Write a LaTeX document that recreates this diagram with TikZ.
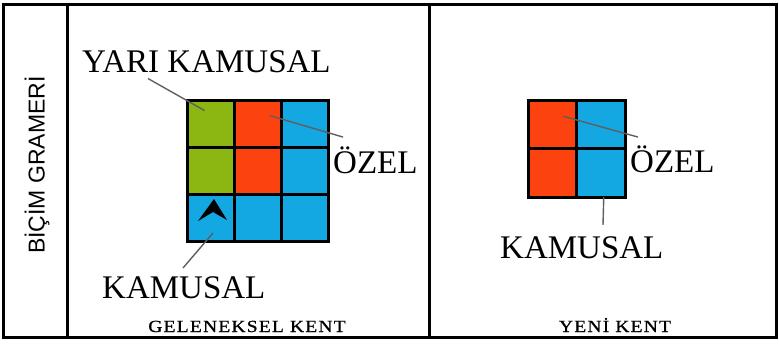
\documentclass[tikz,border=0pt]{standalone}
\usepackage{fontspec}
\setmainfont{Liberation Serif}
\setsansfont{Liberation Sans}
\usepackage{tikz}
\usetikzlibrary{positioning,calc}
\definecolor{cellgreen}{RGB}{140,182,18}
\definecolor{cellred}{RGB}{252,66,14}
\definecolor{cellblue}{RGB}{20,168,226}
\definecolor{leadgrey}{RGB}{95,95,95}

\begin{document}
\begin{tikzpicture}[x=1pt,y=-1pt,line join=miter,
  panel/.style={draw,line width=3pt,inner sep=0pt,outer sep=0pt,minimum height=333pt},
  cell/.style={draw,line width=3pt,inner sep=0pt,outer sep=0pt,minimum size=47pt},
  bigcell/.style={cell,minimum size=48.5pt},
  lbl/.style={font=\fontsize{33}{33}\selectfont,inner sep=0pt,anchor=base west},
  kentlbl/.style={font=\fontsize{17}{17}\selectfont\addfontfeature{FakeStretch=1.15,LetterSpace=7,FakeBold=1},inner sep=0pt,anchor=base},
  leader/.style={leadgrey,line width=1.4pt}]
  \useasboundingbox (0,0) rectangle (779,343);
  % frame
  \node[panel,minimum width=64pt] (side) at (35,170.5) {};
  \node[panel,minimum width=362pt,right=0pt of side] (old) {};
  \node[panel,minimum width=347pt,right=0pt of old] (new) {};
  \node[rotate=90,font=\sffamily\fontsize{23}{23}\selectfont] (gram) at (37,165) {BİÇİM GRAMERİ};
  % traditional city
  \node[cell,fill=cellgreen] (g11) at (210.5,123.5) {};
  \node[cell,fill=cellred,right=0pt of g11] (g12) {};
  \node[cell,fill=cellblue,right=0pt of g12] (g13) {};
  \node[cell,fill=cellgreen,below=0pt of g11] (g21) {};
  \node[cell,fill=cellred,right=0pt of g21] (g22) {};
  \node[cell,fill=cellblue,right=0pt of g22] (g23) {};
  \node[cell,fill=cellblue,below=0pt of g21] (g31) {};
  \node[cell,fill=cellblue,right=0pt of g31] (g32) {};
  \node[cell,fill=cellblue,right=0pt of g32] (g33) {};
  \fill ($(g31.center)+(3.5,-18.5)$) -- ++(13,21) -- ++(-14,-8) -- ++(-15,9) -- cycle;
  \node[lbl] (yari) at (82,72) {YARI KAMUSAL};
  \node[lbl] (ozelA) at (333,173) {ÖZEL};
  \node[lbl] (kamA) at (102,298) {KAMUSAL};
  \node[kentlbl] (gel) at (247,332) {GELENEKSEL KENT};
  \draw[leader] ([shift={(66,6)}]yari.south west) -- ([shift={(-6,-13)}]g11.center);
  \draw[leader] ([shift={(12,-8)}]g12.center) -- ([shift={(10,-9)}]ozelA.north west);
  \draw[leader] ([shift={(81,-8)}]kamA.north west) -- ([shift={(2.5,15.5)}]g31.center);
  % new city
  \node[bigcell,fill=cellred] (h11) at (552.25,124.25) {};
  \node[bigcell,fill=cellblue,right=0pt of h11] (h12) {};
  \node[bigcell,fill=cellred,below=0pt of h11] (h21) {};
  \node[bigcell,fill=cellblue,right=0pt of h21] (h22) {};
  \node[lbl] (ozelB) at (630,172) {ÖZEL};
  \node[lbl] (kamB) at (500,258) {KAMUSAL};
  \node[kentlbl] (yeni) at (615,332) {YENİ KENT};
  \draw[leader] ([shift={(11,-8)}]h11.center) -- ([shift={(8,-8)}]ozelB.north west);
  \draw[leader] ([xshift=3pt]h22.south) -- ([shift={(103,-11)}]kamB.north west);
\end{tikzpicture}
\end{document}
